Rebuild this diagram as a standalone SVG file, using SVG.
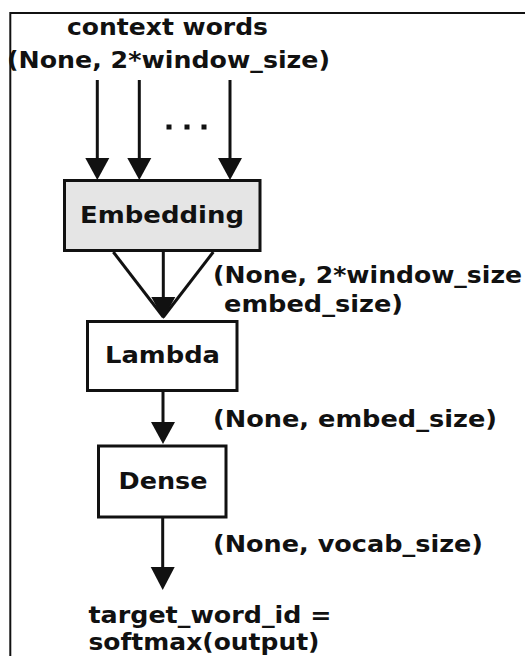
<svg xmlns="http://www.w3.org/2000/svg" width="525" height="656" viewBox="0 0 525 656">
  <style>
    text { font-family: "DejaVu Sans", "Liberation Sans", sans-serif; font-weight: bold; font-size: 23px; fill: #111; }
    .box { stroke: #111; stroke-width: 3; }
    .edge { stroke: #111; stroke-width: 3; fill: none; }
    .head { fill: #111; }
  </style>
  <rect width="525" height="656" fill="#fff"/>
  <path d="M10.3 656 V13 H525" fill="none" stroke="#111" stroke-width="2"/>

  <g id="input">
    <text x="67" y="35" textLength="201" lengthAdjust="spacingAndGlyphs">context words</text>
    <text x="7" y="68" textLength="323" lengthAdjust="spacingAndGlyphs">(None, 2*window_size)</text>
    <rect x="166.5" y="124.5" width="5" height="5" fill="#111"/>
    <rect x="184.5" y="124.5" width="5" height="5" fill="#111"/>
    <rect x="201.5" y="124.5" width="5" height="5" fill="#111"/>
  </g>

  <g id="embedding">
    <rect class="box" x="64.5" y="180.5" width="195.5" height="70" fill="#e5e5e5"/>
    <text x="80" y="223" textLength="164" lengthAdjust="spacingAndGlyphs">Embedding</text>
  </g>

  <g id="lambda">
    <rect class="box" x="87.5" y="321.5" width="149.5" height="69" fill="#fff"/>
    <text x="105" y="363.3" textLength="115" lengthAdjust="spacingAndGlyphs">Lambda</text>
  </g>

  <g id="dense">
    <rect class="box" x="98.5" y="446" width="127.5" height="71" fill="#fff"/>
    <text x="118.5" y="489" textLength="89" lengthAdjust="spacingAndGlyphs">Dense</text>
  </g>

  <g id="output">
    <text x="88.5" y="623" textLength="243" lengthAdjust="spacingAndGlyphs">target_word_id =</text>
    <text x="88.5" y="650" textLength="231" lengthAdjust="spacingAndGlyphs">softmax(output)</text>
  </g>

  <g id="connectors">
    <line class="edge" x1="97.3" y1="80" x2="97.3" y2="160"/>
    <polygon class="head" points="85.3,158 109.3,158 97.3,180"/>
    <line class="edge" x1="139.3" y1="80" x2="139.3" y2="160"/>
    <polygon class="head" points="127.3,158 151.3,158 139.3,180"/>
    <line class="edge" x1="230" y1="80" x2="230" y2="160"/>
    <polygon class="head" points="218,158 242,158 230,180"/>

    <line class="edge" x1="113.3" y1="252" x2="163.3" y2="317"/>
    <line class="edge" x1="163.3" y1="252" x2="163.3" y2="300"/>
    <line class="edge" x1="213.3" y1="252" x2="163.3" y2="317"/>
    <polygon class="head" points="151.3,297 175.3,297 163.3,319"/>

    <line class="edge" x1="163" y1="392" x2="163" y2="424"/>
    <polygon class="head" points="151,422 175,422 163,444"/>

    <line class="edge" x1="162.7" y1="518" x2="162.7" y2="569"/>
    <polygon class="head" points="150.7,567 174.7,567 162.7,590"/>
  </g>

  <g id="edge-labels">
    <text x="213" y="283" textLength="309" lengthAdjust="spacingAndGlyphs">(None, 2*window_size</text>
    <text x="224" y="312" textLength="179" lengthAdjust="spacingAndGlyphs">embed_size)</text>
    <text x="213" y="426.7" textLength="284" lengthAdjust="spacingAndGlyphs">(None, embed_size)</text>
    <text x="213" y="551.7" textLength="270" lengthAdjust="spacingAndGlyphs">(None, vocab_size)</text>
  </g>
</svg>
